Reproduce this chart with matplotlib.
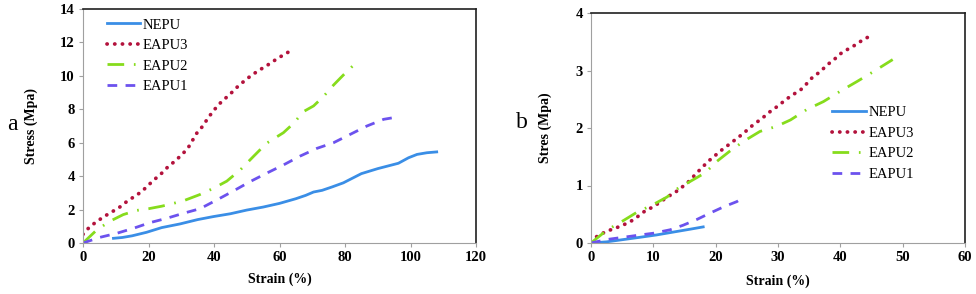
import matplotlib
matplotlib.use("Agg")
import matplotlib.pyplot as plt

plt.rcParams['font.family'] = ['Liberation Serif', 'DejaVu Serif']

# panel a
a_nepu_x = [9.3, 12, 15, 19.4, 24, 29.6, 35, 39.8, 45, 50, 55, 60, 65, 68, 70.4, 73, 76, 79.5, 82, 85, 90, 96.3, 99.4, 102, 105, 108]
a_nepu_y = [0.28, 0.33, 0.43, 0.64, 0.92, 1.14, 1.4, 1.58, 1.75, 1.97, 2.15, 2.37, 2.65, 2.85, 3.05, 3.15, 3.35, 3.6, 3.85, 4.15, 4.45, 4.77, 5.1, 5.3, 5.4, 5.45]
a_e3_x = [0, 2.1, 4.2, 6.4, 8.9, 11.1, 13.3, 15.6, 17.9, 20, 22, 24, 26, 28.1, 30.1, 32, 34.7, 36.6, 38.1, 39.8, 41.5, 43.5, 45.4, 47.4, 49.6, 51.7, 53.9, 56.4, 58.7, 61, 63.4]
a_e3_y = [0.52, 0.98, 1.28, 1.58, 1.87, 2.13, 2.47, 2.77, 3.07, 3.47, 3.83, 4.17, 4.57, 4.9, 5.27, 5.66, 6.56, 7.0, 7.46, 7.9, 8.3, 8.66, 9.0, 9.39, 9.75, 10.07, 10.35, 10.65, 10.95, 11.23, 11.5]
a_e2_x = [0, 4.2, 8.2, 12.3, 16.4, 20, 24, 27.6, 31, 35.7, 39.8, 43.9, 48, 52, 56, 61.2, 64.3, 67.3, 70.4, 73.4, 76.5, 79.5, 82.4]
a_e2_y = [0, 0.78, 1.3, 1.7, 1.95, 2.05, 2.2, 2.37, 2.55, 2.9, 3.27, 3.7, 4.37, 5.17, 5.96, 6.6, 7.16, 7.86, 8.2, 8.76, 9.45, 10.05, 10.6]
a_e1_x = [0, 5.2, 10.3, 15.4, 20.5, 25.6, 30.7, 35.7, 40.8, 45.9, 51, 56, 61.2, 66.3, 71.4, 76.5, 81.6, 86.7, 91.8, 96.3]
a_e1_y = [0, 0.34, 0.58, 0.88, 1.22, 1.48, 1.78, 2.05, 2.57, 3.11, 3.67, 4.17, 4.67, 5.2, 5.66, 6.0, 6.5, 7.0, 7.4, 7.55]

# panel b
b_nepu_x = [0, 2.5, 5.2, 7.9, 10.5, 13.2, 15.9, 18]
b_nepu_y = [0, 0.02, 0.06, 0.1, 0.14, 0.19, 0.24, 0.28]
b_e3_x = [0.9, 2.4, 3.7, 4.9, 6.3, 7.5, 8.7, 10, 11.2, 12.4, 13.5, 14.7, 15.8, 16.8, 17.8, 18.8, 19.9, 21, 22.1, 23.3, 24.5, 25.5, 26.6, 27.8, 28.9, 30.1, 31.2, 32.4, 33.6, 34.6, 35.6, 36.8, 37.8, 39, 40, 41.2, 42.5, 43.7, 45]
b_e3_y = [0.11, 0.2, 0.25, 0.3, 0.37, 0.46, 0.56, 0.63, 0.72, 0.81, 0.88, 0.98, 1.08, 1.2, 1.31, 1.42, 1.52, 1.62, 1.71, 1.81, 1.91, 2.01, 2.1, 2.2, 2.3, 2.39, 2.49, 2.58, 2.66, 2.77, 2.89, 2.98, 3.09, 3.19, 3.29, 3.37, 3.45, 3.54, 3.61]
b_e2_x = [0, 2.5, 5.2, 7.3, 10, 12.2, 13.8, 15.9, 18.3, 20.2, 22.3, 24.5, 27.1, 29.8, 32, 34.6, 37.3, 40, 42.7, 45.3, 48.4]
b_e2_y = [0, 0.22, 0.39, 0.53, 0.67, 0.8, 0.94, 1.07, 1.22, 1.42, 1.6, 1.77, 1.94, 2.03, 2.14, 2.32, 2.46, 2.64, 2.81, 2.98, 3.19]
b_e1_x = [0, 2.5, 5.2, 7.9, 10, 12.7, 14.8, 17, 19.1, 21.3, 23.4, 24.7]
b_e1_y = [0, 0.06, 0.1, 0.14, 0.17, 0.23, 0.31, 0.41, 0.52, 0.63, 0.72, 0.81]

names = ['NEPU', 'EAPU3', 'EAPU2', 'EAPU1']
c_blue = '#3a8ee6'
c_red = '#b3123c'
c_green = '#86dc1c'
c_purple = '#6c52ee'

fig = plt.figure(figsize=(9.76, 2.94), dpi=100)
ax1 = fig.add_axes([83/976, 1-243/294, 393/976, 234/294])
ax2 = fig.add_axes([591/976, 1-243/294, 374/976, 230/294])


def draw(ax, nx, ny, e3x, e3y, e2x, e2y, e1x, e1y):
    ax.plot(nx, ny, color=c_blue, lw=2, label=names[0])
    ax.plot(e3x, e3y, color=c_red, lw=2.7, linestyle=(0, (0.05, 2.0)), dash_capstyle='round', label=names[1])
    ax.plot(e2x, e2y, color=c_green, lw=2, dashes=(6, 3.5, 0.6, 3.5), label=names[2])
    ax.plot(e1x, e1y, color=c_purple, lw=2, dashes=(3.5, 3), label=names[3])
    for s in ['left', 'bottom']:
        ax.spines[s].set_color('#a0a0a0')
    for s in ['top', 'right']:
        ax.spines[s].set_color('#202020')
        ax.spines[s].set_linewidth(1.2)
    ax.tick_params(length=3, color='#a0a0a0', labelsize=10.5, pad=3)
    ax.set_xlabel('Strain (%)', fontsize=10, fontweight='bold')


draw(ax1, a_nepu_x, a_nepu_y, a_e3_x, a_e3_y, a_e2_x, a_e2_y, a_e1_x, a_e1_y)
ax1.set_xlim(0, 120)
ax1.set_ylim(0, 14)
ax1.set_xticks(range(0, 121, 20))
ax1.set_yticks(range(0, 15, 2))
for t in ax1.get_xticklabels() + ax1.get_yticklabels():
    t.set_fontweight('bold')
ax1.set_ylabel('Stress (Mpa)', fontsize=10, fontweight='bold')
ax1.yaxis.set_label_coords((38 - 83) / 393, 0.5)
ax1.xaxis.set_label_coords(0.5, -(273 - 243) / 234)
ax1.legend(loc='upper left', bbox_to_anchor=(0.045, 0.985), frameon=False, fontsize=10.5,
           handlelength=2.3, handletextpad=0.2, labelspacing=0.5, borderaxespad=0)

draw(ax2, b_nepu_x, b_nepu_y, b_e3_x, b_e3_y, b_e2_x, b_e2_y, b_e1_x, b_e1_y)
ax2.set_xlim(0, 60)
ax2.set_ylim(0, 4)
ax2.set_xticks(range(0, 61, 10))
ax2.set_yticks(range(0, 5))
for t in ax2.get_xticklabels() + ax2.get_yticklabels():
    t.set_fontweight('bold')
ax2.set_ylabel('Stres (Mpa)', fontsize=10, fontweight='bold')
ax2.yaxis.set_label_coords((552 - 591) / 374, 0.5)
ax2.xaxis.set_label_coords(0.5, -(275 - 243) / 230)
ax2.legend(loc='upper left', bbox_to_anchor=(0.63, 0.62), frameon=False, fontsize=10.5,
           handlelength=2.3, handletextpad=0.2, labelspacing=0.5, borderaxespad=0)

fig.text(7/976, 1-124/294, 'a', fontsize=17, ha='left', va='center')
fig.text(516/976, 1-122/294, 'b', fontsize=17, ha='left', va='center')

fig.savefig('out.png', dpi=100)
